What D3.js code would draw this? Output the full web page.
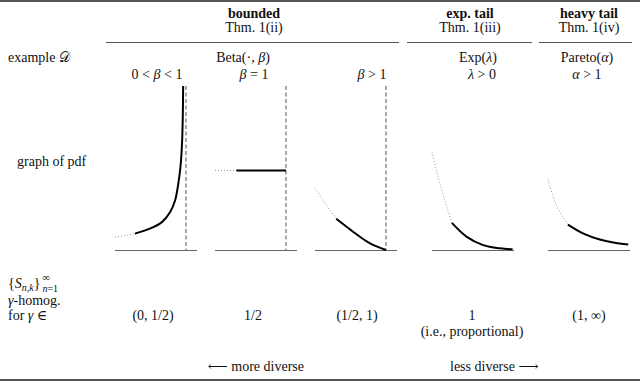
<!DOCTYPE html>
<html>
<head>
<meta charset="utf-8">
<script src="https://cdn.jsdelivr.net/npm/d3@7/dist/d3.min.js"></script>
<style>
  body { margin: 0; background: #fff; }
  text { font-family: "Liberation Serif", "Times New Roman", "DejaVu Serif", serif; font-size: 14px; fill: #111; }
  .rule { stroke: #555; }
  .base { stroke: #666; stroke-width: 1; }
  .asym { stroke: #555; stroke-width: 1; stroke-dasharray: 4 2.5; }
  .dotted { fill: none; stroke: #999; stroke-width: 1; stroke-dasharray: 1 2; }
  .solid { fill: none; stroke: #000; stroke-width: 2; }
</style>
</head>
<body>
<svg id="chart" width="640" height="381"></svg>
<script>
// --- table text ---
const groupTitles = ["bounded", "exp. tail", "heavy tail"];
const groupThms = ["Thm. 1(ii)", "Thm. 1(iii)", "Thm. 1(iv)"];
const familyNames = [
  [{ t: "Beta(·, " }, { t: "β", i: 1 }, { t: ")" }],
  [{ t: "Exp(" }, { t: "λ", i: 1 }, { t: ")" }],
  [{ t: "Pareto(" }, { t: "α", i: 1 }, { t: ")" }]
];
const paramLabels = [
  [{ t: "0 < " }, { t: "β", i: 1 }, { t: " < 1" }],
  [{ t: "β", i: 1 }, { t: " = 1" }],
  [{ t: "β", i: 1 }, { t: " > 1" }],
  [{ t: "λ", i: 1 }, { t: " > 0" }],
  [{ t: "α", i: 1 }, { t: " > 1" }]
];
const gammaLabels = ["(0, 1/2)", "1/2", "(1/2, 1)", "1", "(1, ∞)"];

// --- pdf curves: [x, density] (density as fraction of panel height) ---
const dottedParts = [
  [[0, 0.078], [0.14, 0.088], [0.28, 0.10]],
  [[0, 0.485], [0.30, 0.485]],
  [[0, 0.377], [0.15, 0.28], [0.30, 0.19]],
  [[0, 0.595], [0.14, 0.36], [0.28, 0.165]],
  [[0, 0.43], [0.12, 0.27], [0.28, 0.155]]
];
const solidParts = [
  [[0.28, 0.10], [0.49, 0.13], [0.66, 0.17], [0.775, 0.23], [0.845, 0.30], [0.89, 0.40],
   [0.925, 0.52], [0.945, 0.66], [0.955, 0.82], [0.96, 1.0]],
  [[0.30, 0.485], [1.0, 0.485]],
  [[0.30, 0.19], [0.54, 0.11], [0.775, 0.04], [1.0, 0.0]],
  [[0.28, 0.165], [0.49, 0.08], [0.72, 0.03], [0.96, 0.01], [1.135, 0.004]],
  [[0.28, 0.155], [0.50, 0.10], [0.73, 0.064], [0.92, 0.046], [1.13, 0.034]]
];
const hasBound = [true, true, true, false, false];

const svg = d3.select("#chart");

// write text made of plain/italic pieces
function rich(x, y, parts, anchor = "middle", weight = null) {
  const t = svg.append("text").attr("x", x).attr("y", y).attr("text-anchor", anchor);
  if (weight) t.attr("font-weight", weight);
  parts.forEach(p => {
    const s = t.append("tspan").text(p.t);
    if (p.i) s.attr("font-style", "italic");
    if (p.sz) s.attr("font-size", p.sz);
    if (p.dy) s.attr("dy", p.dy);
  });
  return t;
}

// rules
svg.append("line").attr("class", "rule").attr("x1", 0).attr("x2", 640).attr("y1", 1).attr("y2", 1).attr("stroke-width", 2);
svg.append("line").attr("class", "rule").attr("x1", 0).attr("x2", 640).attr("y1", 380).attr("y2", 380).attr("stroke-width", 2).attr("stroke", "#777");
const cmid = [[106, 399], [407, 532], [539, 632]];
cmid.forEach(c => svg.append("line").attr("class", "rule").attr("stroke", "#666")
  .attr("x1", c[0]).attr("x2", c[1]).attr("y1", 42.5).attr("y2", 42.5));

// group headers
const groupX = [254, 470, 589];
groupTitles.forEach((g, i) => rich(groupX[i], 18, [{ t: g }], "middle", "bold"));
groupThms.forEach((g, i) => rich(groupX[i], 32, [{ t: g }]));

// row: example D
rich(8, 62, [{ t: "example " }, { t: "𝒟" }], "start");
const famX = [243, 478, 587];
familyNames.forEach((f, i) => rich(famX[i], 62, f));
const paramX = [157, 254, 372, 482, 587];
paramLabels.forEach((p, i) => rich(paramX[i], 79, p));

// row: graph of pdf
rich(17, 166, [{ t: "graph of pdf" }], "start");

const panelLeft = [115, 215, 315, 432, 548];
const y = d3.scaleLinear().domain([0, 1]).range([250, 86]);
panelLeft.forEach((left, i) => {
  const x = d3.scaleLinear().domain([0, 1.155]).range([left, left + 82]);
  const line = d3.line().x(d => x(d[0])).y(d => y(d[1])).curve(d3.curveCatmullRom);
  svg.append("line").attr("class", "base")
    .attr("x1", x(0)).attr("x2", x(1.155)).attr("y1", y(0) + 0.5).attr("y2", y(0) + 0.5);
  if (hasBound[i]) {
    svg.append("line").attr("class", "asym")
      .attr("x1", x(1)).attr("x2", x(1)).attr("y1", y(1)).attr("y2", y(0));
  }
  svg.append("path").attr("class", "dotted").attr("d", line(dottedParts[i]));
  svg.append("path").attr("class", "solid").attr("d", line(solidParts[i]));
});

// row: gamma-homogeneity
const seq = rich(8, 288, [{ t: "{" }, { t: "S", i: 1 }, { t: "n,k", i: 1, sz: 10, dy: 3 }, { t: "}", dy: -3 }], "start");
const seqEnd = 8 + seq.node().getComputedTextLength() + 2;
rich(seqEnd, 281, [{ t: "∞", sz: 10.5 }], "start");
rich(seqEnd, 292, [{ t: "n", i: 1, sz: 10 }, { t: "=1", sz: 10 }], "start");
rich(8, 305, [{ t: "γ", i: 1 }, { t: "-homog." }], "start");
rich(8, 320, [{ t: "for " }, { t: "γ", i: 1 }, { t: " ∈" }], "start");
const gammaX = [153, 253, 357, 472, 589];
gammaLabels.forEach((g, i) => rich(gammaX[i], 320, [{ t: g }]));
rich(472, 336, [{ t: "(i.e., proportional)" }]);

// diversity arrows
rich(304, 371, [{ t: "⟵ more diverse" }], "end");
rich(450, 371, [{ t: "less diverse ⟶" }], "start");
</script>
</body>
</html>
